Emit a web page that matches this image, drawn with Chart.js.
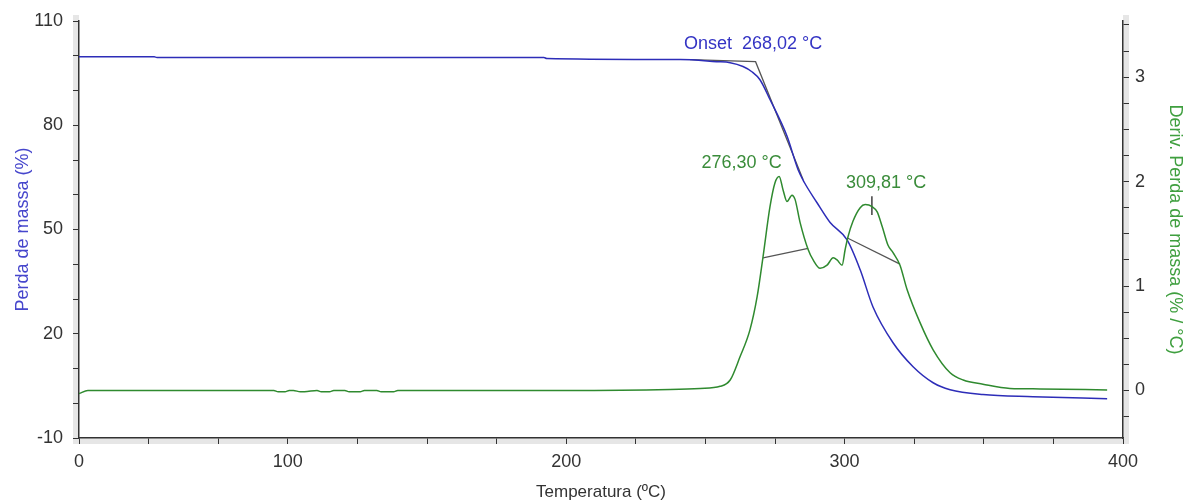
<!DOCTYPE html>
<html><head><meta charset="utf-8">
<script src="https://cdn.jsdelivr.net/npm/chart.js@4"></script>
<style>html,body{margin:0;padding:0;background:#fff}#wrap{width:1187px;height:503px}</style>
</head><body><div id="wrap"><canvas id="c" width="1187" height="503"></canvas></div>
<script>
// TG curve: temperature (°C) and mass (%)
const tempTG = [25, 52, 53, 192, 193, 241, 254, 258.9, 263.5, 266.7, 269.6, 273.2, 279.3, 283.3, 285.5, 290.1, 294.8, 300.9, 305.6, 310.2, 317.4, 324.6, 331.8, 337.9, 349.7, 367.7, 394.3];
const massTG = [99.7, 99.7, 99.5, 99.5, 99.2, 98.9, 98.3, 98.0, 96.9, 95.4, 93.1, 87.4, 76.9, 67.2, 63.6, 57.7, 52.0, 47.0, 38.4, 27.7, 17.4, 10.5, 5.9, 3.9, 2.5, 1.9, 1.3];
// DTG curve: temperature (°C) and derivative (%/°C)
const tempDTG = [25, 28.2, 95, 96.5, 99, 100.5, 102, 104.5, 106, 110.5, 112, 115, 116.5, 120.5, 122, 126, 127.5, 132, 133.5, 138, 139.5, 200, 237.3, 248.1, 255.3, 258.9, 262.4, 266.0, 268.6, 270.7, 273.2, 275.0, 276.5, 277.9, 279.3, 281.1, 282.2, 284.0, 286.9, 288.7, 291.2, 293.7, 295.9, 297.3, 299.1, 300.2, 301.2, 303.0, 305.6, 307.4, 309.9, 311.7, 313.5, 315.6, 317.4, 319.9, 322.4, 327.1, 331.8, 337.9, 342.6, 349.7, 359.4, 370.2, 394.3];
const derivDTG = [-0.03, 0.0, 0.0, -0.012, -0.012, 0.0, 0.0, -0.012, -0.012, 0.0, -0.012, -0.012, 0.0, 0.0, -0.012, -0.012, 0.0, 0.0, -0.012, -0.012, 0.0, 0.0, 0.01, 0.02, 0.04, 0.10, 0.32, 0.58, 0.90, 1.28, 1.76, 1.99, 2.05, 1.92, 1.81, 1.87, 1.83, 1.61, 1.35, 1.25, 1.17, 1.20, 1.27, 1.25, 1.20, 1.35, 1.47, 1.62, 1.75, 1.78, 1.76, 1.71, 1.57, 1.39, 1.32, 1.20, 0.97, 0.65, 0.39, 0.17, 0.10, 0.06, 0.02, 0.015, 0.005];
// analysis construction lines
const onsetT = [244.5, 268.02, 285.1];
const onsetV = [98.9, 98.3, 64.3];
const peak1BaseT = [270.7, 286.9];
const peak1BaseD = [1.27, 1.36];
const peak2BaseT = [301.0, 319.9];
const peak2BaseD = [1.46, 1.21];
const peak2MarkT = [309.81, 309.81];
const peak2MarkD = [1.86, 1.68];
// tick labels
const xTickLabels = {25: '0', 100: '100', 200: '200', 300: '300', 400: '400'};
const leftTickLabels = [-10, 20, 50, 80, 110];
const rightTickLabels = [0, 1, 2, 3];
// text annotations (data coordinates)
const annoTexts = ['Onset  268,02 °C', '276,30 °C', '309,81 °C'];
const annoT = [242.3, 248.6, 300.5];
const annoVal = [103.5, 2.18, 1.99];
const annoAxis = ['y', 'y1', 'y1'];
const annoColor = ['#3434c4', '#3a8c3a', '#3a8c3a'];

const pts = (xs, ys) => xs.map((x, i) => ({x: x, y: ys[i]}));
const FONT = '"Liberation Sans", Arial, sans-serif';
const BLUE = '#2d2db8', GREEN = '#2f8a2f', GRAY = '#555555';

const lineDs = (data, color, axis, w, smooth) => ({
  data: data, yAxisID: axis, borderColor: color, borderWidth: w, pointRadius: 0,
  fill: false, cubicInterpolationMode: smooth ? 'monotone' : 'default', tension: 0
});

const shadowPlugin = {
  id: 'shadow',
  beforeDraw(chart) {
    const {ctx, chartArea: a} = chart;
    ctx.save();
    ctx.fillStyle = '#e6e6e6';
    ctx.fillRect(a.left - 6, a.top - 6, 6, a.bottom - a.top + 12);
    ctx.fillRect(a.right, a.top - 6, 6, a.bottom - a.top + 12);
    ctx.fillRect(a.left - 6, a.bottom, a.right - a.left + 12, 6);
    ctx.restore();
  }
};
const textPlugin = {
  id: 'annoText',
  afterDatasetsDraw(chart) {
    const ctx = chart.ctx, xs = chart.scales.x;
    ctx.save();
    ctx.font = '18px ' + FONT;
    ctx.textAlign = 'left';
    ctx.textBaseline = 'middle';
    annoTexts.forEach((t, i) => {
      ctx.fillStyle = annoColor[i];
      ctx.fillText(t, xs.getPixelForValue(annoT[i]), chart.scales[annoAxis[i]].getPixelForValue(annoVal[i]));
    });
    ctx.restore();
  }
};
const range = (a, b, s) => { const r = []; for (let v = a; v <= b + 1e-9; v += s) r.push({value: Math.round(v * 1000) / 1000}); return r; };

new Chart(document.getElementById('c'), {
  type: 'line',
  data: {datasets: [
    lineDs(pts(tempDTG, derivDTG), GREEN, 'y1', 1.5, true),
    lineDs(pts(tempTG, massTG), BLUE, 'y', 1.5, true),
    lineDs(pts(onsetT, onsetV), GRAY, 'y', 1.3, false),
    lineDs(pts(peak1BaseT, peak1BaseD), GRAY, 'y1', 1.3, false),
    lineDs(pts(peak2BaseT, peak2BaseD), GRAY, 'y1', 1.3, false),
    lineDs(pts(peak2MarkT, peak2MarkD), '#222', 'y1', 1.3, false)
  ]},
  options: {
    responsive: false, animation: false, devicePixelRatio: 1,
    layout: {padding: {top: 21, left: 0, right: 0, bottom: 0}},
    plugins: {legend: {display: false}, tooltip: {enabled: false}},
    scales: {
      x: {
        type: 'linear', min: 25, max: 400,
        afterBuildTicks: s => { s.ticks = range(25, 400, 25); },
        afterFit: s => { s.height = 65; },
        ticks: {autoSkip: false, maxRotation: 0, padding: 7, color: '#333', font: {family: FONT, size: 18},
          callback: v => xTickLabels[v] !== undefined ? xTickLabels[v] : ''},
        grid: {drawOnChartArea: false, drawTicks: true, tickLength: 6, color: '#333'},
        border: {color: '#333', width: 1.5},
        title: {display: true, text: 'Temperatura (ºC)', color: '#333', font: {family: FONT, size: 17}, padding: {top: 0, bottom: 0}}
      },
      y: {
        position: 'left', min: -10, max: 110,
        afterBuildTicks: s => { s.ticks = range(-10, 110, 10); },
        afterFit: s => { s.width = 79; },
        ticks: {autoSkip: false, padding: 10, color: '#333', font: {family: FONT, size: 18},
          callback: v => leftTickLabels.includes(v) ? String(v) : ''},
        grid: {drawOnChartArea: false, drawTicks: true, tickLength: 6, color: '#333'},
        border: {color: '#333', width: 1.5},
        title: {display: true, text: 'Perda de massa (%)', color: '#4646cc', font: {family: FONT, size: 18}, padding: {top: 12, bottom: 0}}
      },
      y1: {
        position: 'right', min: -0.455, max: 3.538,
        afterBuildTicks: s => { s.ticks = range(-0.25, 3.5, 0.25); },
        afterFit: s => { s.width = 64; },
        ticks: {autoSkip: false, padding: 6, color: '#333', font: {family: FONT, size: 18},
          callback: v => rightTickLabels.includes(v) ? String(v) : ''},
        grid: {drawOnChartArea: false, drawTicks: true, tickLength: 6, color: '#333'},
        border: {color: '#333', width: 1.5},
        title: {display: true, text: 'Deriv. Perda de massa (% / °C)', color: '#3f9f3f', font: {family: FONT, size: 18}, padding: {top: 1, bottom: 0}}
      }
    }
  },
  plugins: [shadowPlugin, textPlugin]
});
</script></body></html>
